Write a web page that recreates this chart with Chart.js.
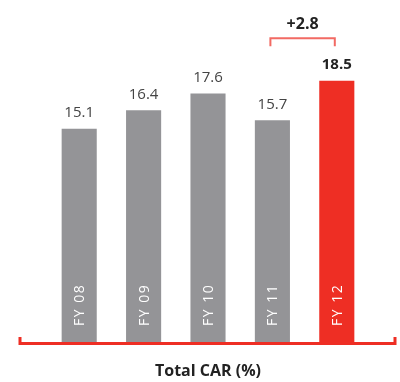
<!DOCTYPE html>
<html>
<head>
<meta charset="utf-8">
<script src="https://cdn.jsdelivr.net/npm/chart.js@4"></script>
<style>
  html, body { margin: 0; padding: 0; background: #fff; }
</style>
</head>
<body>
<canvas id="carChart" width="400" height="382"></canvas>
<script>
const years = ['FY 08', 'FY 09', 'FY 10', 'FY 11', 'FY 12'];
const carValues = [15.1, 16.4, 17.6, 15.7, 18.5];
const valueLabels = ['15.1', '16.4', '17.6', '15.7', '18.5'];
const changeLabel = '+2.8';
const chartTitle = 'Total CAR (%)';

const GREY = '#949497';
const RED = '#ee2e24';

const barColors = carValues.map((v, i) => i === carValues.length - 1 ? RED : GREY);

const decorations = {
    id: 'decorations',
    afterDatasetsDraw(chart) {
        const ctx = chart.ctx;
        const meta = chart.getDatasetMeta(0);
        const y = chart.scales.y;
        const area = chart.chartArea;

        ctx.save();
        // value labels above bars
        meta.data.forEach((bar, i) => {
            const last = i === meta.data.length - 1;
            ctx.font = (last ? 'bold ' : '') + '15px "Open Sans"';
            ctx.fillStyle = last ? '#222' : '#444';
            ctx.textAlign = 'center';
            ctx.textBaseline = 'bottom';
            ctx.fillText(valueLabels[i], bar.x, bar.y - 8);
        });

        // rotated category labels inside bars
        meta.data.forEach((bar, i) => {
            ctx.save();
            ctx.translate(bar.x + 1, area.bottom - 16);
            ctx.rotate(-Math.PI / 2);
            ctx.font = '14px "Open Sans"';
            ctx.letterSpacing = '1.5px';
            ctx.fillStyle = '#fff';
            ctx.textAlign = 'left';
            ctx.textBaseline = 'middle';
            ctx.fillText(years[i], 0, 0);
            ctx.restore();
        });

        // base line with end ticks
        ctx.strokeStyle = RED;
        ctx.lineWidth = 3;
        ctx.beginPath();
        ctx.moveTo(20, area.bottom - 5);
        ctx.lineTo(20, area.bottom + 1.5);
        ctx.lineTo(395, area.bottom + 1.5);
        ctx.lineTo(395, area.bottom - 5);
        ctx.stroke();

        // change bracket between FY 11 and FY 12
        const x1 = meta.data[3].x - 2;
        const x2 = meta.data[4].x - 2;
        const by = y.getPixelForValue(21.5);
        ctx.strokeStyle = '#f26a63';
        ctx.lineWidth = 2;
        ctx.beginPath();
        ctx.moveTo(x1, by + 8);
        ctx.lineTo(x1, by);
        ctx.lineTo(x2, by);
        ctx.lineTo(x2, by + 8);
        ctx.stroke();

        ctx.font = 'bold 16px "Open Sans"';
        ctx.fillStyle = '#222';
        ctx.textAlign = 'center';
        ctx.textBaseline = 'middle';
        ctx.fillText(changeLabel, (x1 + x2) / 2, y.getPixelForValue(22.5));

        // title
        ctx.font = 'bold 16px "Open Sans"';
        ctx.fillText(chartTitle, 208, area.bottom + 29);
        ctx.restore();
    }
};

new Chart(document.getElementById('carChart').getContext('2d'), {
    type: 'bar',
    data: {
        labels: years,
        datasets: [{
            data: carValues,
            backgroundColor: barColors,
            borderWidth: 0,
            barPercentage: 0.545,
            categoryPercentage: 1
        }]
    },
    options: {
        responsive: false,
        animation: false,
        layout: { padding: { left: 47, right: 31, top: 3, bottom: 40 } },
        plugins: { legend: { display: false }, tooltip: { enabled: false } },
        scales: {
            x: { display: false },
            y: { display: false, min: 0, max: 24 }
        }
    },
    plugins: [decorations]
});
</script>
</body>
</html>
